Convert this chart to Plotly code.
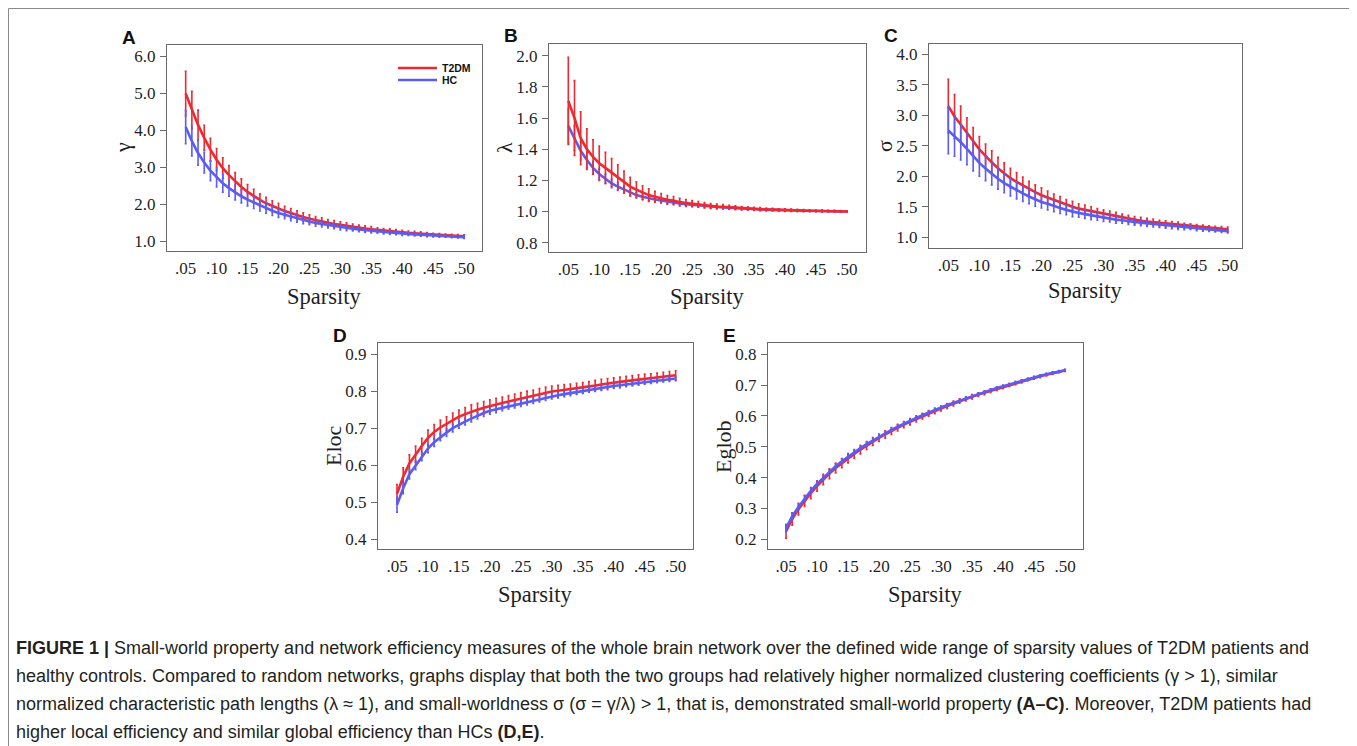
import plotly.graph_objects as go

# page body has an 8px margin: figure drawn at (8, 8) in the window
OFF = 8
FW, FH = 1349, 738


def px(xp):
    return (xp - OFF) / FW


def py(yp):
    return 1 - (yp - OFF) / FH


sparsity = [round(0.05 + 0.01 * i, 2) for i in range(46)]
x_tick_vals = [0.05, 0.10, 0.15, 0.20, 0.25, 0.30, 0.35, 0.40, 0.45, 0.50]
x_tick_text = [".05", ".10", ".15", ".20", ".25", ".30", ".35", ".40", ".45", ".50"]

# Panel A: gamma
gamma_t2dm = [4.99, 4.54, 4.14, 3.79, 3.47, 3.20, 2.97, 2.78, 2.61, 2.46, 2.33, 2.21, 2.11, 2.02, 1.94, 1.88,
              1.81, 1.75, 1.70, 1.65, 1.60, 1.56, 1.53, 1.49, 1.46, 1.44, 1.41, 1.38, 1.36, 1.34, 1.32, 1.30,
              1.28, 1.27, 1.25, 1.24, 1.22, 1.21, 1.20, 1.18, 1.17, 1.16, 1.15, 1.14, 1.135, 1.13]
gamma_t2dm_err = [0.60, 0.51, 0.40, 0.34, 0.31, 0.30, 0.28, 0.26, 0.24, 0.22, 0.20, 0.19, 0.17, 0.16, 0.15, 0.14,
                  0.13, 0.13, 0.12, 0.11, 0.11, 0.10, 0.10, 0.09, 0.09, 0.08, 0.08, 0.08, 0.07, 0.07, 0.07, 0.06,
                  0.06, 0.06, 0.06, 0.05, 0.05, 0.05, 0.05, 0.05, 0.04, 0.04, 0.04, 0.04, 0.04, 0.04]
gamma_hc = [4.08, 3.70, 3.38, 3.12, 2.90, 2.72, 2.56, 2.43, 2.31, 2.21, 2.12, 2.04, 1.96, 1.89, 1.82, 1.76,
            1.71, 1.66, 1.61, 1.57, 1.53, 1.49, 1.46, 1.43, 1.40, 1.37, 1.35, 1.33, 1.31, 1.29, 1.27, 1.26,
            1.24, 1.23, 1.22, 1.20, 1.19, 1.18, 1.17, 1.16, 1.15, 1.14, 1.13, 1.12, 1.11, 1.10]
gamma_hc_err = [0.45, 0.40, 0.33, 0.28, 0.27, 0.26, 0.24, 0.22, 0.20, 0.18, 0.17, 0.16, 0.15, 0.14, 0.13, 0.12,
                0.11, 0.11, 0.10, 0.10, 0.09, 0.09, 0.08, 0.08, 0.07, 0.07, 0.07, 0.06, 0.06, 0.06, 0.05, 0.05,
                0.05, 0.05, 0.05, 0.05, 0.04, 0.04, 0.04, 0.04, 0.04, 0.04, 0.03, 0.03, 0.03, 0.03]

# Panel B: lambda
lambda_t2dm = [1.71, 1.60, 1.47, 1.40, 1.35, 1.31, 1.28, 1.25, 1.22, 1.19, 1.16, 1.14, 1.12, 1.105, 1.095, 1.085,
               1.075, 1.07, 1.06, 1.055, 1.05, 1.045, 1.04, 1.035, 1.032, 1.03, 1.027, 1.024, 1.021, 1.019, 1.017,
               1.015, 1.013, 1.012, 1.01, 1.009, 1.008, 1.007, 1.006, 1.005, 1.004, 1.003, 1.003, 1.002, 1.001, 1.0]
lambda_t2dm_err = [0.28, 0.24, 0.17, 0.13, 0.11, 0.11, 0.10, 0.09, 0.08, 0.07, 0.06, 0.05, 0.045, 0.04, 0.035, 0.03,
                   0.028, 0.026, 0.024, 0.022, 0.02, 0.018, 0.017, 0.016, 0.015, 0.014, 0.013, 0.012, 0.011, 0.011,
                   0.010, 0.010, 0.009, 0.009, 0.008, 0.008, 0.007, 0.007, 0.007, 0.006, 0.006, 0.006, 0.005, 0.005,
                   0.005, 0.005]
lambda_hc = [1.55, 1.47, 1.39, 1.33, 1.28, 1.24, 1.21, 1.18, 1.16, 1.14, 1.12, 1.105, 1.095, 1.085, 1.077, 1.07,
             1.063, 1.057, 1.052, 1.047, 1.043, 1.039, 1.035, 1.032, 1.029, 1.026, 1.024, 1.021, 1.019, 1.017, 1.015,
             1.013, 1.012, 1.01, 1.009, 1.008, 1.007, 1.006, 1.005, 1.004, 1.004, 1.003, 1.002, 1.002, 1.001, 1.0]
lambda_hc_err = [0.11, 0.08, 0.06, 0.05, 0.04, 0.035, 0.03, 0.028, 0.025, 0.022, 0.02, 0.018, 0.017, 0.016, 0.015,
                 0.014, 0.013, 0.012, 0.011, 0.011, 0.010, 0.010, 0.009, 0.009, 0.008, 0.008, 0.007, 0.007, 0.007,
                 0.006, 0.006, 0.006, 0.006, 0.005, 0.005, 0.005, 0.005, 0.005, 0.004, 0.004, 0.004, 0.004, 0.004,
                 0.004, 0.004, 0.004]

# Panel C: sigma
sigma_t2dm = [3.15, 2.98, 2.85, 2.72, 2.58, 2.44, 2.33, 2.23, 2.13, 2.05, 1.97, 1.91, 1.85, 1.79, 1.74, 1.69,
              1.65, 1.61, 1.57, 1.53, 1.50, 1.47, 1.45, 1.42, 1.40, 1.38, 1.36, 1.34, 1.32, 1.30, 1.28, 1.27,
              1.26, 1.25, 1.23, 1.22, 1.21, 1.20, 1.19, 1.18, 1.17, 1.16, 1.15, 1.14, 1.135, 1.13]
sigma_t2dm_err = [0.44, 0.36, 0.30, 0.24, 0.22, 0.21, 0.20, 0.19, 0.18, 0.17, 0.16, 0.15, 0.14, 0.13, 0.12, 0.12,
                  0.11, 0.10, 0.10, 0.09, 0.09, 0.08, 0.08, 0.08, 0.07, 0.07, 0.07, 0.07, 0.06, 0.06, 0.06, 0.06,
                  0.05, 0.05, 0.05, 0.05, 0.05, 0.05, 0.04, 0.04, 0.04, 0.04, 0.04, 0.04, 0.04, 0.04]
sigma_hc = [2.75, 2.66, 2.56, 2.45, 2.33, 2.22, 2.13, 2.04, 1.96, 1.89, 1.83, 1.77, 1.72, 1.67, 1.62, 1.58,
            1.55, 1.51, 1.48, 1.45, 1.42, 1.40, 1.38, 1.36, 1.34, 1.32, 1.31, 1.29, 1.28, 1.26, 1.25, 1.24,
            1.23, 1.21, 1.20, 1.19, 1.18, 1.17, 1.165, 1.16, 1.14, 1.13, 1.125, 1.12, 1.11, 1.10]
sigma_hc_err = [0.38, 0.33, 0.29, 0.26, 0.24, 0.22, 0.20, 0.18, 0.17, 0.16, 0.15, 0.14, 0.13, 0.12, 0.11, 0.10,
                0.10, 0.09, 0.09, 0.08, 0.08, 0.07, 0.07, 0.07, 0.06, 0.06, 0.06, 0.06, 0.05, 0.05, 0.05, 0.05,
                0.05, 0.04, 0.04, 0.04, 0.04, 0.04, 0.04, 0.03, 0.03, 0.03, 0.03, 0.03, 0.03, 0.03]

# Panel D: Eloc
eloc_t2dm = [0.523, 0.569, 0.605, 0.630, 0.652, 0.674, 0.690, 0.702, 0.712, 0.722, 0.731, 0.738, 0.745, 0.750,
             0.755, 0.760, 0.764, 0.768, 0.772, 0.776, 0.780, 0.784, 0.788, 0.792, 0.796, 0.799, 0.801, 0.803,
             0.805, 0.807, 0.809, 0.812, 0.815, 0.818, 0.821, 0.823, 0.825, 0.827, 0.829, 0.831, 0.833, 0.835,
             0.837, 0.839, 0.841, 0.843]
eloc_t2dm_err = [0.025, 0.024, 0.023, 0.022, 0.021, 0.021, 0.020, 0.020, 0.019, 0.019, 0.018, 0.018, 0.018, 0.017,
                 0.017, 0.017, 0.017, 0.016, 0.016, 0.016, 0.016, 0.016, 0.015, 0.015, 0.015, 0.015, 0.015, 0.015,
                 0.014, 0.014, 0.014, 0.014, 0.014, 0.014, 0.013, 0.013, 0.013, 0.013, 0.013, 0.013, 0.013, 0.012,
                 0.012, 0.012, 0.012, 0.012]
eloc_hc = [0.493, 0.538, 0.576, 0.600, 0.624, 0.645, 0.662, 0.676, 0.688, 0.700, 0.710, 0.718, 0.726, 0.734,
           0.741, 0.747, 0.751, 0.755, 0.759, 0.763, 0.767, 0.771, 0.775, 0.779, 0.783, 0.787, 0.789, 0.792,
           0.795, 0.798, 0.801, 0.804, 0.806, 0.809, 0.811, 0.814, 0.816, 0.818, 0.820, 0.822, 0.825, 0.827,
           0.829, 0.831, 0.832, 0.834]
eloc_hc_err = [0.020, 0.015, 0.013, 0.012, 0.012, 0.011, 0.011, 0.010, 0.010, 0.010, 0.010, 0.009, 0.009, 0.009,
               0.009, 0.009, 0.009, 0.008, 0.008, 0.008, 0.008, 0.008, 0.008, 0.008, 0.008, 0.008, 0.007, 0.007,
               0.007, 0.007, 0.007, 0.007, 0.007, 0.007, 0.007, 0.007, 0.007, 0.006, 0.006, 0.006, 0.006, 0.006,
               0.006, 0.006, 0.006, 0.006]

# Panel E: Eglob
eglob_t2dm = [0.226, 0.266, 0.298, 0.325, 0.350, 0.373, 0.394, 0.413, 0.431, 0.447, 0.463, 0.477, 0.491, 0.504,
              0.517, 0.529, 0.540, 0.551, 0.562, 0.572, 0.581, 0.590, 0.599, 0.608, 0.616, 0.624, 0.632, 0.640,
              0.648, 0.655, 0.662, 0.669, 0.675, 0.682, 0.688, 0.694, 0.700, 0.706, 0.712, 0.718, 0.723, 0.728,
              0.733, 0.738, 0.743, 0.747]
eglob_t2dm_err = [0.022, 0.020, 0.019, 0.018, 0.018, 0.017, 0.017, 0.016, 0.016, 0.015, 0.015, 0.014, 0.014, 0.013,
                  0.013, 0.012, 0.012, 0.011, 0.011, 0.010, 0.010, 0.010, 0.009, 0.009, 0.009, 0.008, 0.008, 0.008,
                  0.007, 0.007, 0.007, 0.006, 0.006, 0.006, 0.006, 0.005, 0.005, 0.005, 0.005, 0.004, 0.004, 0.004,
                  0.004, 0.004, 0.003, 0.003]
eglob_hc = [0.236, 0.275, 0.305, 0.332, 0.357, 0.380, 0.400, 0.419, 0.437, 0.453, 0.468, 0.482, 0.496, 0.509,
            0.521, 0.533, 0.544, 0.555, 0.565, 0.575, 0.584, 0.593, 0.602, 0.611, 0.619, 0.627, 0.635, 0.642,
            0.650, 0.657, 0.664, 0.671, 0.677, 0.684, 0.690, 0.696, 0.702, 0.708, 0.714, 0.719, 0.725, 0.730,
            0.735, 0.740, 0.744, 0.748]
eglob_hc_err = [0.012, 0.010, 0.009, 0.009, 0.008, 0.008, 0.008, 0.007, 0.007, 0.007, 0.007, 0.006, 0.006, 0.006,
                0.006, 0.006, 0.005, 0.005, 0.005, 0.005, 0.005, 0.005, 0.004, 0.004, 0.004, 0.004, 0.004, 0.004,
                0.004, 0.004, 0.003, 0.003, 0.003, 0.003, 0.003, 0.003, 0.003, 0.003, 0.003, 0.003, 0.003, 0.003,
                0.003, 0.003, 0.003, 0.003]

group_names = ["T2DM", "HC"]

RED = "#ec2a32"
BLUE = "#5a5cf2"
SERIF = "Liberation Serif"
SANS = "Liberation Sans"

# label, y title, pixel box (l, r, t, b), x range, y range, y ticks, y tick text, data, x-title y
panels = [
    ("A", "γ", (167, 482, 45, 251), (0.0198, 0.529), (0.73, 6.30),
     [1, 2, 3, 4, 5, 6], ["1.0", "2.0", "3.0", "4.0", "5.0", "6.0"],
     gamma_t2dm, gamma_t2dm_err, gamma_hc, gamma_hc_err, 296),
    ("B", "λ", (549, 866, 44, 252), (0.0188, 0.531), (0.740, 2.075),
     [0.8, 1.0, 1.2, 1.4, 1.6, 1.8, 2.0], ["0.8", "1.0", "1.2", "1.4", "1.6", "1.8", "2.0"],
     lambda_t2dm, lambda_t2dm_err, lambda_hc, lambda_hc_err, 296),
    ("C", "σ", (929, 1242, 44, 248), (0.0189, 0.523), (0.825, 4.169),
     [1.0, 1.5, 2.0, 2.5, 3.0, 3.5, 4.0], ["1.0", "1.5", "2.0", "2.5", "3.0", "3.5", "4.0"],
     sigma_t2dm, sigma_t2dm_err, sigma_hc, sigma_hc_err, 291),
    ("D", "Eloc", (378, 693, 343, 549), (0.0193, 0.528), (0.374, 0.930),
     [0.4, 0.5, 0.6, 0.7, 0.8, 0.9], ["0.4", "0.5", "0.6", "0.7", "0.8", "0.9"],
     eloc_t2dm, eloc_t2dm_err, eloc_hc, eloc_hc_err, 594),
    ("E", "Eglob", (768, 1083, 343, 549), (0.0209, 0.529), (0.169, 0.836),
     [0.2, 0.3, 0.4, 0.5, 0.6, 0.7, 0.8], ["0.2", "0.3", "0.4", "0.5", "0.6", "0.7", "0.8"],
     eglob_t2dm, eglob_t2dm_err, eglob_hc, eglob_hc_err, 594),
]

fig = go.Figure()
annotations = []
shapes = []
layout_axes = {}

for i, (lab, ytitle, box, xr, yr, ytv, ytt, t_mean, t_err, h_mean, h_err, sp_y) in enumerate(panels):
    n = i + 1
    xa = "x" if n == 1 else f"x{n}"
    ya = "y" if n == 1 else f"y{n}"
    l, r, t, b = box
    order = [(group_names[0], t_mean, t_err, RED), (group_names[1], h_mean, h_err, BLUE)]
    if lab == "B":
        order = order[::-1]
    for name, m, e, col in order:
        fig.add_trace(go.Scatter(
            x=sparsity, y=m, mode="lines", name=name,
            line=dict(color=col, width=2.6),
            error_y=dict(type="data", array=e, visible=True, color=col, thickness=1.6, width=1),
            xaxis=xa, yaxis=ya, showlegend=False,
        ))
    xkey = "xaxis" if n == 1 else f"xaxis{n}"
    ykey = "yaxis" if n == 1 else f"yaxis{n}"
    layout_axes[xkey] = dict(
        domain=[px(l), px(r)], range=list(xr), anchor=ya, tickmode="array",
        tickvals=x_tick_vals, ticktext=x_tick_text, ticks="", showgrid=False, zeroline=False,
        showline=True, linecolor="#6a6a6a", linewidth=1.2, mirror=True,
        tickfont=dict(family=SERIF, size=17, color="#1e1e1e"), ticklabelstandoff=1,
    )
    layout_axes[ykey] = dict(
        domain=[py(b), py(t)], range=list(yr), anchor=xa, tickmode="array",
        tickvals=ytv, ticktext=ytt, ticks="outside", ticklen=6, tickcolor="#6a6a6a",
        showgrid=False, zeroline=False,
        showline=True, linecolor="#6a6a6a", linewidth=1.2, mirror=True,
        tickfont=dict(family=SERIF, size=17, color="#1e1e1e"), ticklabelstandoff=1,
    )
    annotations.append(dict(text=f"<b>{lab}</b>", x=px(l - 38), y=py(t - 8),
                            xref="paper", yref="paper", showarrow=False,
                            font=dict(family=SANS, size=19, color="#111"),
                            xanchor="center", yanchor="middle"))
    annotations.append(dict(text="Sparsity", x=px((l + r) / 2), y=py(sp_y),
                            xref="paper", yref="paper", showarrow=False,
                            font=dict(family=SERIF, size=22.5, color="#1e1e1e"),
                            xanchor="center", yanchor="middle"))
    annotations.append(dict(text=ytitle, x=px(l - 45), y=py((t + b) / 2),
                            xref="paper", yref="paper", showarrow=False, textangle=-90,
                            font=dict(family=SERIF, size=22, color="#1e1e1e"),
                            xanchor="center", yanchor="middle"))

# legend of panel A (key lines + labels)
for name, col, ly in [(group_names[0], RED, 68), (group_names[1], BLUE, 80)]:
    shapes.append(dict(type="line", xref="paper", yref="paper", x0=px(398), x1=px(437),
                       y0=py(ly), y1=py(ly), line=dict(color=col, width=2.6)))
    annotations.append(dict(text=f"<b>{name}</b>", x=px(440), y=py(ly), xref="paper", yref="paper",
                            showarrow=False, xanchor="left", yanchor="middle",
                            font=dict(family=SANS, size=10.5, color="#111")))

caption_lines = [
    "<b>FIGURE 1 |</b> Small-world property and network efficiency measures of the whole brain network over the defined wide range of sparsity values of T2DM patients and",
    "healthy controls. Compared to random networks, graphs display that both the two groups had relatively higher normalized clustering coefficients (γ > 1), similar",
    "normalized characteristic path lengths (λ ≈ 1), and small-worldness σ (σ = γ/λ) > 1, that is, demonstrated small-world property <b>(A–C)</b>. Moreover, T2DM patients had",
    "higher local efficiency and similar global efficiency than HCs <b>(D,E)</b>.",
]
caption_y = [648, 676, 704, 732]
for line, cy in zip(caption_lines, caption_y):
    annotations.append(dict(text=line, x=px(14), y=py(cy), xref="paper", yref="paper",
                            showarrow=False, xanchor="left", yanchor="middle",
                            font=dict(family=SANS, size=18, color="#231f20")))

shapes.append(dict(type="rect", xref="paper", yref="paper", x0=0.5 / FW, x1=px(1350),
                   y0=-0.2, y1=1 - 0.5 / FH, line=dict(color="#8a8a8a", width=1)))

fig.update_layout(
    width=FW, height=FH, margin=dict(l=0, r=0, t=0, b=0),
    paper_bgcolor="white", plot_bgcolor="white",
    showlegend=False,
    annotations=annotations,
    shapes=shapes,
    **layout_axes,
)

fig.write_html("out.html")
